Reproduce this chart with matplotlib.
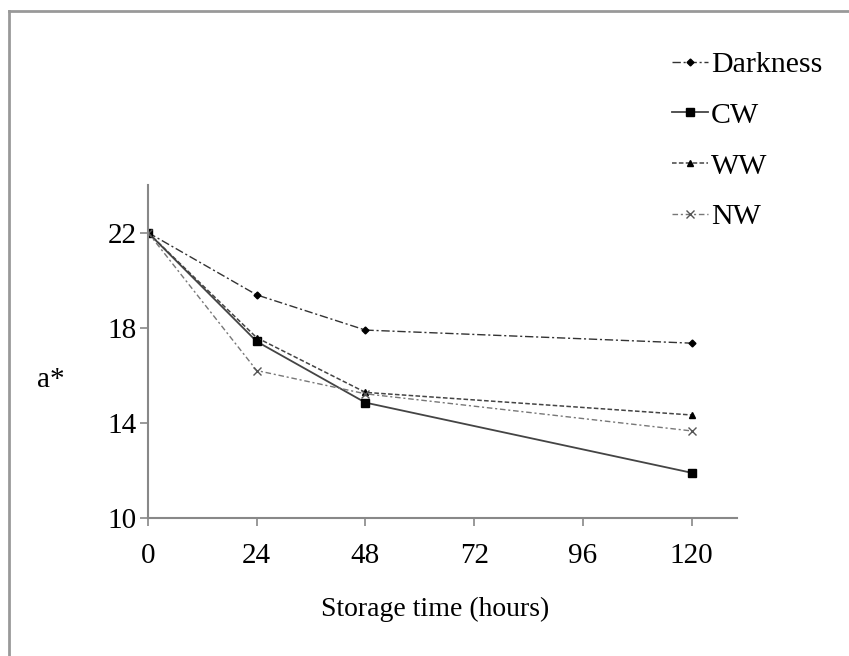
import numpy as np
import matplotlib.pyplot as plt
from matplotlib.lines import Line2D

plt.rcParams['font.family'] = ['Liberation Serif', 'DejaVu Serif']

hours = [0, 24, 48, 120]
darkness = [22.0, 19.38, 17.9, 17.35]
cw = [22.0, 17.42, 14.85, 11.9]
ww = [22.0, 17.58, 15.28, 14.33]
nw = [22.0, 16.2, 15.22, 13.66]

x_ticks = [0, 24, 48, 72, 96, 120]
y_ticks = [10, 14, 18, 22]

fig = plt.figure(figsize=(8.49, 6.56), dpi=100)
ax = fig.add_axes([0.1743, 0.2104, 0.6937, 0.5076])

ax.plot(hours, darkness, color='#333333', lw=1.0, ls=(0, (6, 2, 1.5, 2)),
        marker='D', ms=3.5, mfc='black', mec='black', label='Darkness')
ax.plot(hours, cw, color='#444444', lw=1.3, ls='-',
        marker='s', ms=5.5, mfc='black', mec='black', label='CW')
ax.plot(hours, ww, color='#444444', lw=1.1, ls=(0, (3, 1.5)),
        marker='^', ms=5, mfc='black', mec='black', label='WW')
ax.plot(hours, nw, color='#777777', lw=1.0, ls=(0, (4, 2, 1.5, 2)),
        marker='x', ms=6, mec='#555555', label='NW')

ax.set_xlim(0, 130)
ax.set_ylim(10, 24)
ax.set_xticks(x_ticks)
ax.set_yticks(y_ticks)
ax.tick_params(labelsize=21, length=6, width=1.2, color='#888888')
ax.tick_params(axis='x', pad=12)
ax.tick_params(axis='y', pad=2)
for side in ['top', 'right']:
    ax.spines[side].set_visible(False)
for side in ['left', 'bottom']:
    ax.spines[side].set_color('#888888')
    ax.spines[side].set_linewidth(1.5)

ax.set_xlabel('Storage time (hours)', fontsize=20)
ax.xaxis.set_label_coords(0.488, -0.237)
ax.set_ylabel('a*', fontsize=21, rotation=0, va='center', ha='center')
ax.yaxis.set_label_coords(-0.165, 0.414)

fig.legend(loc='upper left', bbox_to_anchor=(0.76, 0.963), frameon=False,
           fontsize=21.5, handlelength=1.2, handletextpad=0.1,
           labelspacing=0.8)

# partial frame around the figure
fig.add_artist(Line2D([0.0106, 1.0], [0.983, 0.983], transform=fig.transFigure,
                      color='#999999', lw=2))
fig.add_artist(Line2D([0.0106, 0.0106], [0.0, 0.983], transform=fig.transFigure,
                      color='#999999', lw=2))

fig.savefig('out.png', dpi=100)
